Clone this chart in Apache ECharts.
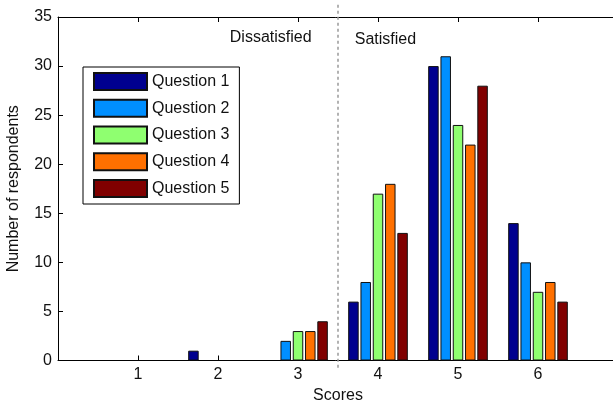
<!DOCTYPE html>
<html>
<head>
<meta charset="utf-8">
<script src="https://cdn.jsdelivr.net/npm/echarts@6/dist/echarts.min.js"></script>
<style>
  html, body { margin: 0; padding: 0; background: #fff; }
  #chart { width: 613px; height: 402px; }
</style>
</head>
<body>
<div id="chart"></div>
<script>
// Survey answers: number of respondents per score, one list per question
const scores = [1, 2, 3, 4, 5, 6];
const question1 = [0, 1, 0, 6, 30, 14];
const question2 = [0, 0, 2, 8, 31, 10];
const question3 = [0, 0, 3, 17, 24, 7];
const question4 = [0, 0, 3, 18, 22, 8];
const question5 = [0, 0, 4, 13, 28, 6];
const seriesNames = ['Question 1', 'Question 2', 'Question 3', 'Question 4', 'Question 5'];
const seriesColors = ['#00008f', '#008fff', '#8fff70', '#ff7000', '#800000'];
const yTicks = { min: 0, max: 35, step: 5 };
const xRange = { min: 0, max: 7, step: 1 };
const divider = 3.5; // boundary between dissatisfied and satisfied scores

const FONT = 'Liberation Sans, Arial, sans-serif';
const chart = echarts.init(document.getElementById('chart'), null, { renderer: 'canvas' });

const allValues = [question1, question2, question3, question4, question5];
const series = allValues.map((vals, i) => ({
  name: seriesNames[i],
  type: 'bar',
  xAxisIndex: 0,
  yAxisIndex: 0,
  barWidth: 10.5,
  barGap: '17%',
  // empty bars get no outline so nothing is drawn on the baseline
  data: scores.map((s, k) => vals[k] === 0
    ? { value: [s, vals[k]], itemStyle: { borderWidth: 0 } }
    : [s, vals[k]]),
  itemStyle: { color: seriesColors[i], borderColor: '#111', borderWidth: 1 },
  emphasis: { disabled: true },
  animation: false
}));

// box-style axes: lines stay on the grid edges, ticks point inward
const axisLine = { show: true, onZero: false, lineStyle: { color: '#000', width: 1 } };
const tickIn = { show: true, inside: true, length: 5, lineStyle: { color: '#000' } };

chart.setOption({
  animation: false,
  backgroundColor: '#fff',
  grid: { left: 58, top: 17, width: 560, height: 343.5, containLabel: false, outerBoundsMode: 'none' },
  legend: {
    show: true,
    orient: 'vertical',
    left: 83,
    top: 67,
    data: seriesNames,
    icon: 'rect',
    itemWidth: 53,
    itemHeight: 17,
    itemGap: 7.75,
    padding: [5, 10, 6, 10],
    borderColor: '#000',
    borderWidth: 1,
    backgroundColor: '#fff',
    selectedMode: false,
    textStyle: { fontFamily: FONT, fontSize: 16, color: '#111' }
  },
  xAxis: [
    {
      type: 'value',
      position: 'bottom',
      min: xRange.min, max: xRange.max, interval: xRange.step,
      name: 'Scores',
      nameLocation: 'middle',
      nameGap: 24,
      nameTextStyle: { fontFamily: FONT, fontSize: 16, color: '#111' },
      axisLine: axisLine,
      axisTick: tickIn,
      splitLine: { show: false },
      axisLabel: {
        fontFamily: FONT, fontSize: 16, color: '#111', margin: 6,
        formatter: v => (v >= scores[0] && v <= scores[scores.length - 1]) ? String(v) : ''
      }
    },
    {
      type: 'value',
      position: 'top',
      min: xRange.min, max: xRange.max, interval: xRange.step,
      axisLine: axisLine,
      axisTick: tickIn,
      axisLabel: { show: false },
      splitLine: { show: false }
    }
  ],
  yAxis: [
    {
      type: 'value',
      position: 'left',
      min: yTicks.min, max: yTicks.max, interval: yTicks.step,
      name: 'Number of respondents',
      nameLocation: 'middle',
      nameGap: 36,
      nameTextStyle: { fontFamily: FONT, fontSize: 16, color: '#111' },
      axisLine: axisLine,
      axisTick: tickIn,
      splitLine: { show: false },
      axisLabel: { fontFamily: FONT, fontSize: 16, color: '#111', margin: 6 }
    },
    {
      type: 'value',
      position: 'right',
      min: yTicks.min, max: yTicks.max, interval: yTicks.step,
      axisLine: axisLine,
      axisTick: tickIn,
      axisLabel: { show: false },
      splitLine: { show: false }
    }
  ],
  series: series
});

// Dashed divider and the two region captions, placed through the axis scales
function px(x, y) {
  return chart.convertToPixel({ xAxisIndex: 0, yAxisIndex: 0 }, [x, y]);
}
const lineTop = px(divider, 36.25);
const lineBottom = px(divider, -0.85);
const dissLabel = px(3.17, 32.1);
const satLabel = px(3.71, 31.9);

chart.setOption({
  graphic: [
    {
      type: 'line',
      z: 1,
      shape: { x1: lineTop[0], y1: lineTop[1], x2: lineBottom[0], y2: lineBottom[1] },
      style: { stroke: '#999', lineWidth: 1.5, lineDash: [3, 3] },
      silent: true
    },
    {
      type: 'text',
      x: dissLabel[0], y: dissLabel[1],
      style: { text: 'Dissatisfied', fontFamily: FONT, fontSize: 16, fill: '#111', align: 'right', verticalAlign: 'bottom' },
      silent: true
    },
    {
      type: 'text',
      x: satLabel[0], y: satLabel[1],
      style: { text: 'Satisfied', fontFamily: FONT, fontSize: 16, fill: '#111', align: 'left', verticalAlign: 'bottom' },
      silent: true
    }
  ]
});
</script>
</body>
</html>
